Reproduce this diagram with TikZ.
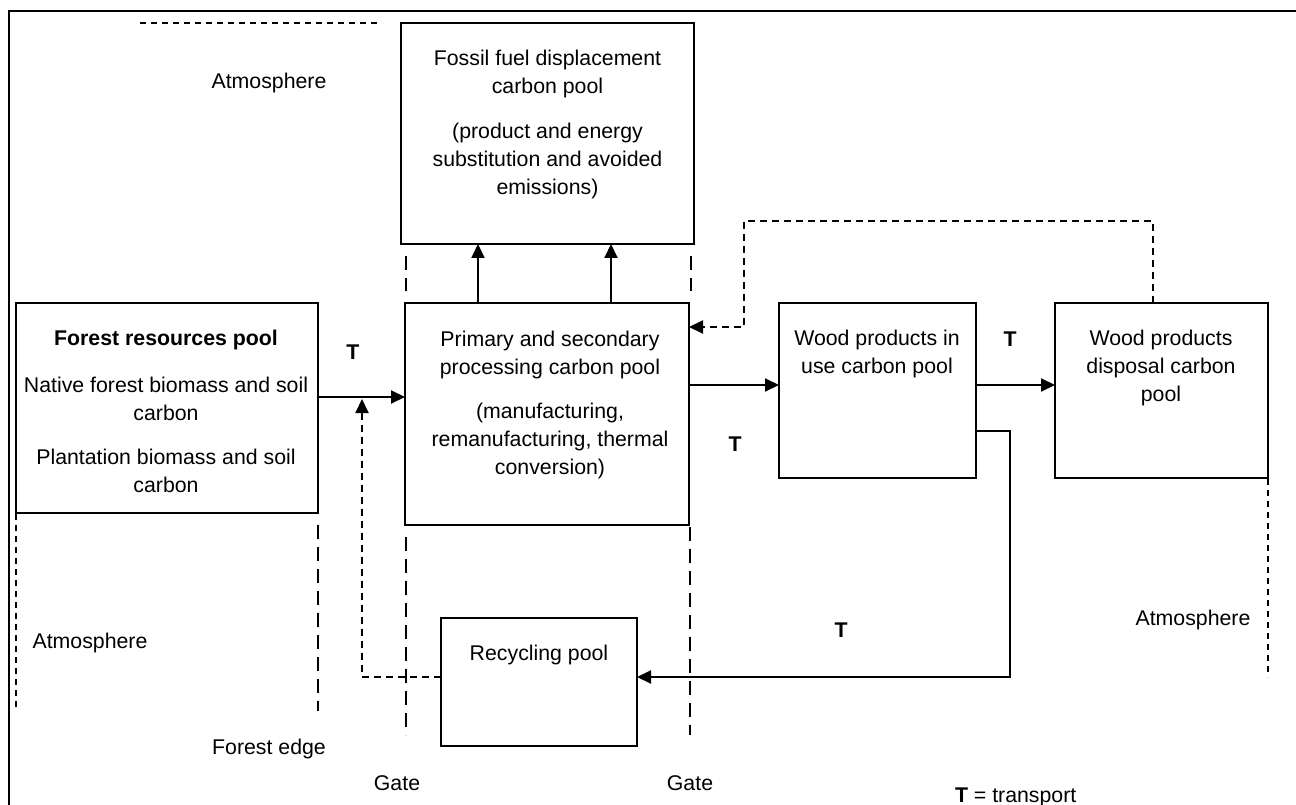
\documentclass[tikz,border=0pt]{standalone}
\usepackage{fontspec}
\setmainfont{Liberation Sans}
\usetikzlibrary{arrows.meta}
\begin{document}
\begin{tikzpicture}[x=1pt,y=-1pt,
  every node/.style={font=\fontsize{21.3}{28}\selectfont, inner sep=0pt, outer sep=0pt},
  pool/.style={draw, line width=2pt, rectangle},
  txt/.style={align=center},
  arr/.style={line width=2pt, -{Triangle[length=14pt,width=13pt]}},
  darr/.style={line width=2pt, dash pattern=on 7pt off 5pt, -{Triangle[length=14pt,width=13pt]}},
  frameline/.style={line width=2.5pt},
  shortdash/.style={line width=2pt, dash pattern=on 6pt off 5pt},
  longdash/.style={line width=2pt, dash pattern=on 14pt off 8pt},
  tlabel/.style={font=\fontsize{21.3}{28}\selectfont\bfseries}
]
\useasboundingbox (0,0) rectangle (1296,805);
\fill[white] (0,0) rectangle (1296,805);

% frame (only top and left visible)
\draw[frameline] (9,805) -- (9,11) -- (1296,11);

% pools
\node[pool, minimum width=293pt, minimum height=221pt] (fossil) at (547.5,133.5) {};
\node[pool, minimum width=284pt, minimum height=222pt] (proc) at (547,414) {};
\node[pool, minimum width=302pt, minimum height=210pt] (forest) at (167,408) {};
\node[pool, minimum width=197pt, minimum height=175pt] (use) at (877.5,390.5) {};
\node[pool, minimum width=213pt, minimum height=175pt] (disp) at (1161.5,390.5) {};
\node[pool, minimum width=196pt, minimum height=128pt] (recy) at (539,682) {};

% texts in pools
\node[txt] (fossilA) at (547.5,74) {Fossil fuel displacement\\carbon pool};
\node[txt] (fossilB) at (547.5,161) {(product and energy\\substitution and avoided\\emissions)};
\node[txt] (procA) at (550,354.5) {Primary and secondary\\processing carbon pool};
\node[txt] (procB) at (550,441) {(manufacturing,\\remanufacturing, thermal\\conversion)};
\node[txt, font=\fontsize{21.3}{28}\selectfont\bfseries] (forestA) at (166,340) {Forest resources pool};
\node[txt] (forestB) at (166,399) {Native forest biomass and soil\\carbon};
\node[txt] (forestC) at (166,471) {Plantation biomass and soil\\carbon};
\node[txt] (useA) at (877,354) {Wood products in\\use carbon pool};
\node[txt] (dispA) at (1161,368) {Wood products\\disposal carbon\\pool};
\node[txt] (recyA) at (539,655) {Recycling pool};

% other labels
\node (atm1) at (269,83) {Atmosphere};
\node (atm2) at (90,643) {Atmosphere};
\node (atm3) at (1193,620) {Atmosphere};
\node (fedge) at (269,749) {Forest edge};
\node (gate1) at (397,783) {Gate};
\node (gate2) at (690,783) {Gate};
\node[tlabel] (t1) at (353,352) {T};
\node[tlabel] (t2) at (735,444) {T};
\node[tlabel] (t3) at (1010,339) {T};
\node[tlabel] (t4) at (841,630) {T};
\node[anchor=west] (legend) at (955,797) {\textbf{T} = transport};

% boundary lines
\draw[shortdash] (140,23) -- (380,23);
\draw[longdash] (406,256) -- (406,291);
\draw[longdash] (691,256) -- (691,291);
\draw[longdash] (406,537) -- (406,735);
\draw[longdash] (690,527) -- (690,735);
\draw[shortdash] (16,514) -- (16,710);
\draw[longdash] (318,525) -- (318,711);
\draw[shortdash] (1268,479) -- (1268,677);

% connectors
\draw[arr] (forest.east |- 0,397) -- (proc.west |- 0,397);
\draw[arr] (proc.north -| 478,0) -- (fossil.south -| 478,0);
\draw[arr] (proc.north -| 611,0) -- (fossil.south -| 611,0);
\draw[arr] (proc.east |- 0,385) -- (use.west |- 0,385);
\draw[arr] (use.east |- 0,385) -- (disp.west |- 0,385);
\coordinate (r1) at (1010,431);
\coordinate (r2) at (1010,677);
\draw[arr] (use.east |- r1) -- (r1) -- (r2) -- (recy.east |- r2);
\coordinate (k1) at (362,677);
\coordinate (k2) at (362,399);
\draw[darr] (recy.west |- k1) -- (k1) -- (k2);
\coordinate (f1) at (1153,221);
\coordinate (f2) at (744,221);
\coordinate (f3) at (744,327);
\draw[darr] (disp.north -| f1) -- (f1) -- (f2) -- (f3) -- (proc.east |- f3);
\end{tikzpicture}
\end{document}
